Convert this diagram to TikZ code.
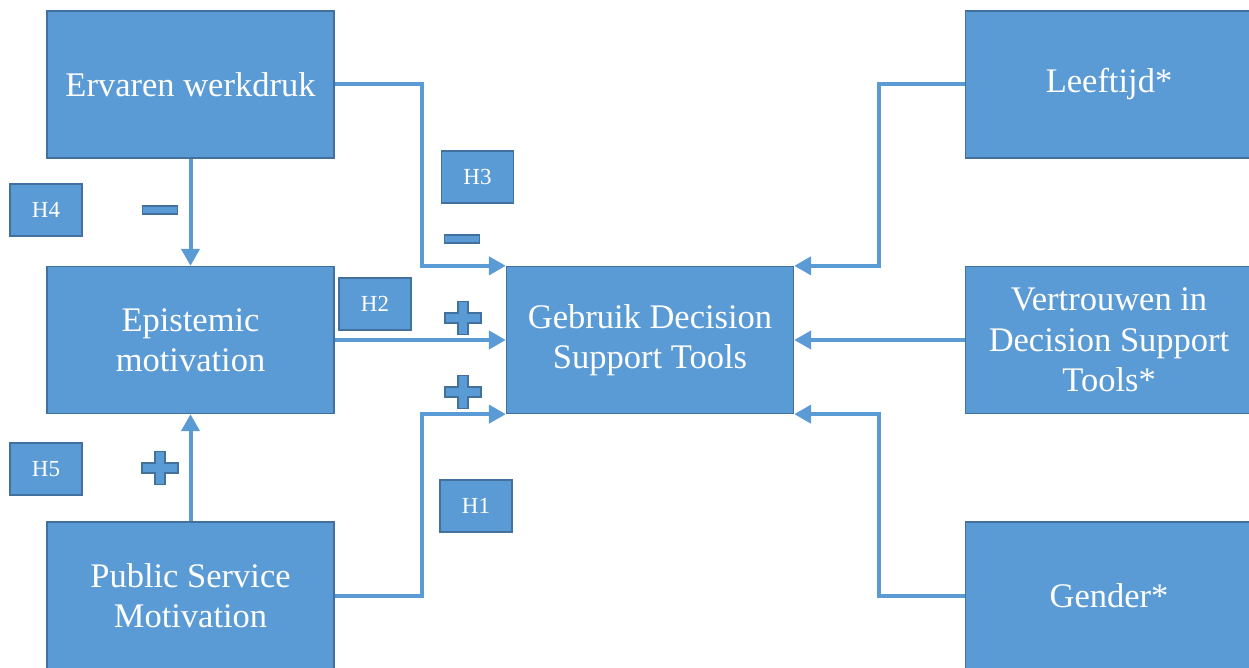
\documentclass[tikz,border=0pt]{standalone}
\usepackage{fontspec}
\setmainfont{Liberation Serif}
\usetikzlibrary{arrows.meta}
\definecolor{boxblue}{HTML}{5B9BD5}
\definecolor{boxedge}{HTML}{41719C}

\begin{document}
\begin{tikzpicture}[x=1pt, y=-1pt,
	factor/.style={draw=boxedge, line width=1.3pt, fill=boxblue, text=white, align=center,
		minimum width=287pt, minimum height=147pt, inner sep=0pt, font=\fontsize{34.5}{40.5}\selectfont},
	hyp/.style={draw=boxedge, line width=1.3pt, fill=boxblue, text=white,
		minimum width=72pt, minimum height=52pt, inner sep=0pt, font=\fontsize{23}{27}\selectfont},
	link/.style={draw=boxblue, line width=4pt, -{Triangle[length=17pt, width=18pt]}},
	signmark/.style={draw=boxedge, line width=1.3pt, fill=boxblue},
	plussign/.pic={\path[signmark] (-5,-16.5) -- (5,-16.5) -- (5,-5) -- (18,-5) -- (18,5) -- (5,5)
		-- (5,16.5) -- (-5,16.5) -- (-5,5) -- (-18,5) -- (-18,-5) -- (-5,-5) -- cycle;},
	minussign/.pic={\path[signmark] (-17.5,-4) rectangle (17.5,4);}
	]
	\useasboundingbox (0,0) rectangle (1249,668);

	\node [factor] (werkdruk) at (190.5,84.5) {Ervaren werkdruk};
	\node [factor] (epistemic) at (190.5,340) {Epistemic\\motivation};
	\node [factor] (psm) at (190.5,595.5) {Public Service\\Motivation};
	\node [factor] (dst) at (650,340) {Gebruik Decision\\Support Tools};
	\node [factor] (leeftijd) at (1109,84.5) {Leeftijd*};
	\node [factor] (vertrouwen) at (1109,340) {Vertrouwen in\\Decision Support\\Tools*};
	\node [factor] (gender) at (1109,595.5) {Gender*};

	\node [hyp] (h4) at (46,210) {H4};
	\node [hyp] (h3) at (477.5,177) {H3};
	\node [hyp] (h2) at (375,304) {H2};
	\node [hyp] (h5) at (46,469) {H5};
	\node [hyp] (h1) at (476,506) {H1};

	\pic at (160,210) {minussign};
	\pic at (462,239) {minussign};
	\pic at (463,318) {plussign};
	\pic at (463,392) {plussign};
	\pic at (160,468) {plussign};

	\draw [link] (werkdruk.south) -- (epistemic.north);
	\draw [link] (psm.north) -- (epistemic.south);
	\draw [link] (werkdruk.east) -- ++(87,0) |- (dst.north west);
	\draw [link] (epistemic.east) -- (dst.west);
	\draw [link] (psm.east) -- ++(87,0) |- (dst.south west);
	\draw [link] (leeftijd.west) -- ++(-86,0) |- (dst.north east);
	\draw [link] (vertrouwen.west) -- (dst.east);
	\draw [link] (gender.west) -- ++(-86,0) |- (dst.south east);
\end{tikzpicture}
\end{document}
